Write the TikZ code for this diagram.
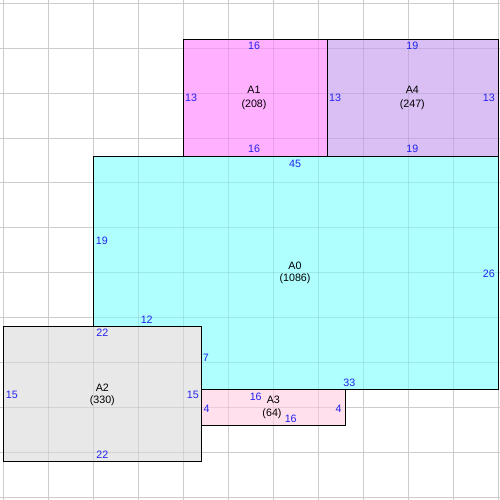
\documentclass[tikz,border=0pt]{standalone}
\usepackage{fontspec}
\setmainfont{Liberation Sans}
\definecolor{cA0}{RGB}{175,255,255}
\definecolor{cA1}{RGB}{255,176,255}
\definecolor{cA4}{RGB}{217,191,243}
\definecolor{cA2}{RGB}{232,232,232}
\definecolor{cA3}{RGB}{255,224,236}
\definecolor{gridc}{RGB}{204,204,204}
\definecolor{lab}{RGB}{34,34,238}
\newcommand{\areabox}[5]{%
  \fill[#5] (#1,#2) rectangle (#3,#4);
  \begin{scope}
  \clip (#1,#2) rectangle (#3,#4);
  \foreach \i in {0,...,11} {
    \draw[gridover] ({3.3+45*\i},0) -- ({3.3+45*\i},500);
    \draw[gridover] (0,{3.3+44.9*\i}) -- (500,{3.3+44.9*\i});
  }
  \end{scope}
  \draw[border] (#1,#2) rectangle (#3,#4);
}
\begin{document}
\begin{tikzpicture}[x=1pt,y=-1pt,
  every node/.style={inner sep=0pt, font=\fontsize{10.7}{12}\selectfont},
  dim/.style={text=lab},
  nm/.style={text=black},
  gridline/.style={draw=gridc, line width=1pt},
  gridover/.style={draw=black, opacity=0.09, line width=1pt},
  border/.style={draw=black, line width=1pt}]
\useasboundingbox (0,0) rectangle (500,500);
\fill[white] (0,0) rectangle (500,500);
% grid
\foreach \i in {0,...,11} {
  \draw[gridline] ({3.3+45*\i},0) -- ({3.3+45*\i},500);
  \draw[gridline] (0,{3.3+44.9*\i}) -- (500,{3.3+44.9*\i});
}
% areas, in stacking order
\areabox{93.3}{156.0}{498.3}{389.4}{cA0}
\areabox{183.3}{39.2}{327.3}{156.0}{cA1}
\areabox{327.3}{39.2}{498.3}{156.0}{cA4}
\areabox{201.3}{389.4}{345.3}{425.4}{cA3}
\areabox{3.3}{326.6}{201.3}{461.3}{cA2}
% A1
\node[dim, anchor=base] (a1t) at (254,49.3) {16};
\node[nm, anchor=base] (a1n) at (254,93.9) {A1};
\node[nm, anchor=base] (a1a) at (254,107.2) {(208)};
\node[dim, anchor=base] (a1b) at (254,152.9) {16};
\node[dim, anchor=base west] (a1l) at (185,101.9) {13};
% A4
\node[dim, anchor=base] (a4t) at (412.3,49.3) {19};
\node[nm, anchor=base] (a4n) at (412.3,93.9) {A4};
\node[nm, anchor=base] (a4a) at (412.3,107.2) {(247)};
\node[dim, anchor=base] (a4b) at (412.3,152.9) {19};
\node[dim, anchor=base west] (a4l) at (329,101.9) {13};
\node[dim, anchor=base east] (a4r) at (495,101.9) {13};
% A0
\node[dim, anchor=base] (a0t) at (295,167.2) {45};
\node[nm, anchor=base] (a0n) at (295,269.6) {A0};
\node[nm, anchor=base] (a0a) at (295,281.6) {(1086)};
\node[dim, anchor=base west] (a0l) at (95.7,244.9) {19};
\node[dim, anchor=base east] (a0r) at (495,277.2) {26};
\node[dim, anchor=base] (a0s) at (146.7,323.9) {12};
\node[dim, anchor=base west] (a0u) at (202.7,361.2) {7};
\node[dim, anchor=base] (a0v) at (349.3,386.6) {33};
% A2
\node[dim, anchor=base] (a2t) at (102.3,336.9) {22};
\node[nm, anchor=base] (a2n) at (102.3,391.2) {A2};
\node[nm, anchor=base] (a2a) at (102.3,403.2) {(330)};
\node[dim, anchor=base west] (a2l) at (5.7,398.6) {15};
\node[dim, anchor=base east] (a2r) at (199,398.6) {15};
\node[dim, anchor=base] (a2b) at (102.3,458.9) {22};
% A3
\node[dim, anchor=base] (a3t) at (255.7,400.2) {16};
\node[nm, anchor=base] (a3n) at (273.3,403.9) {A3};
\node[nm, anchor=base] (a3a) at (272,416.2) {(64)};
\node[dim, anchor=base] (a3b) at (290.7,422.6) {16};
\node[dim, anchor=base west] (a3l) at (203.3,412.2) {4};
\node[dim, anchor=base east] (a3r) at (341.7,412.2) {4};
\end{tikzpicture}
\end{document}
